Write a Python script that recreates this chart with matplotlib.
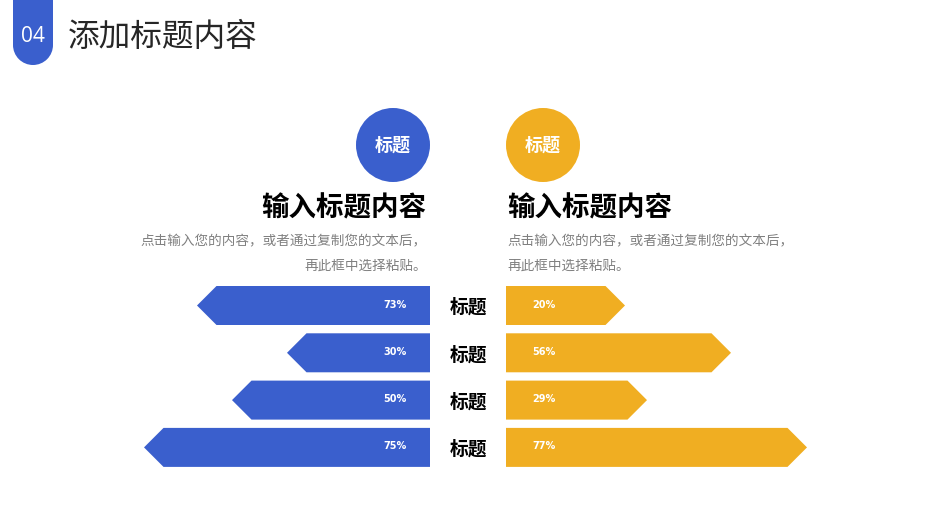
import matplotlib
matplotlib.use('Agg')
import matplotlib.pyplot as plt
from matplotlib.patches import Polygon, Circle, Rectangle, Wedge

plt.rcParams['font.family'] = ['Noto Sans CJK SC', 'DejaVu Sans']

# data
row_names = ['标题', '标题', '标题', '标题']
blue_pct = ['73%', '30%', '50%', '75%']
gold_pct = ['20%', '56%', '29%', '77%']
blue_len = [233, 143, 198, 286]   # bar lengths as drawn on the slide
gold_len = [119, 225, 141, 301]

heading = '输入标题内容'
body = ['点击输入您的内容，或者通过复制您的文本后，', '再此框中选择粘贴。']
circle_text = '标题'
page_no = '04'
page_title = '添加标题内容'

blue = '#3A5FCD'
gold = '#F0AE22'

fig = plt.figure(figsize=(9.33, 5.25), dpi=100)
ax = fig.add_axes([0, 0, 1, 1])
ax.set_xlim(0, 933)
ax.set_ylim(525, 0)
ax.axis('off')

# header tab
ax.add_patch(Rectangle((13, 0), 40, 45, color=blue, lw=0))
ax.add_patch(Wedge((33, 45), 20, 0, 180, color=blue, lw=0))
ax.text(33, 37, page_no, color='white', fontsize=15, ha='center', va='center',
        family=['Open Sans', 'DejaVu Sans'])
ax.text(68, 37, page_title, color='#262626', fontsize=22.8, ha='left', va='center')

# circles and headings
for cx, col, ha, hx in [(393, blue, 'right', 426), (543, gold, 'left', 507)]:
    ax.add_patch(Circle((cx, 145), 37, color=col, lw=0))
    ax.text(cx, 145, circle_text, color='white', fontsize=13, fontweight='bold',
            ha='center', va='center')
    ax.text(hx, 208, heading, color='black', fontsize=19.8, fontweight='bold',
            ha=ha, va='center')
    for k, line in enumerate(body):
        ax.text(hx + 1 if ha == 'right' else hx, 241 + 25 * k, line, color='#808080',
                fontsize=9.8, ha=ha, va='center')

# arrow bars
x_mid_l, x_mid_r = 430, 506
h = 39
for i in range(len(row_names)):
    yc = 305.5 + i * 47.3
    y0, y1 = yc - h / 2, yc + h / 2
    tip = h / 2
    L = blue_len[i]
    ax.add_patch(Polygon([(x_mid_l, y0), (x_mid_l - L + tip, y0), (x_mid_l - L, yc),
                          (x_mid_l - L + tip, y1), (x_mid_l, y1)], closed=True,
                         color=blue, lw=0))
    R = gold_len[i]
    ax.add_patch(Polygon([(x_mid_r, y0), (x_mid_r + R - tip, y0), (x_mid_r + R, yc),
                          (x_mid_r + R - tip, y1), (x_mid_r, y1)], closed=True,
                         color=gold, lw=0))
    ax.text(x_mid_l - 23, yc - 1, blue_pct[i], color='white', fontsize=7,
            fontweight='bold', ha='right', va='center', family=['DejaVu Sans'])
    ax.text(x_mid_r + 26, yc - 1, gold_pct[i], color='white', fontsize=7,
            fontweight='bold', ha='left', va='center', family=['DejaVu Sans'])
    ax.text(468, yc + 2, row_names[i], color='black', fontsize=13.5,
            fontweight='bold', ha='center', va='center')

fig.savefig('out.png', dpi=100)
